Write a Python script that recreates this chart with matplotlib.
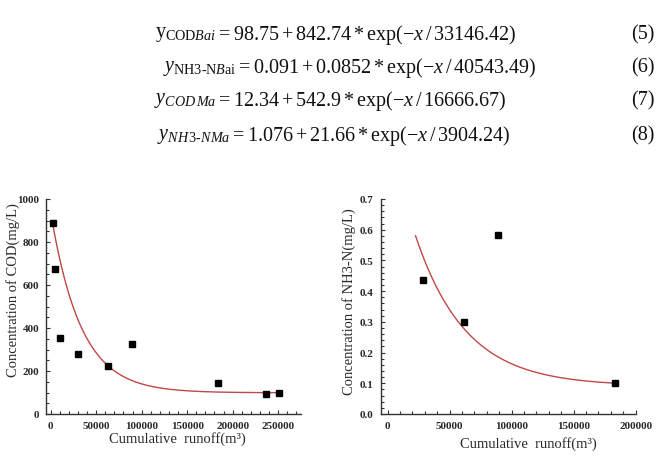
import numpy as np
import matplotlib
matplotlib.use('Agg')
import matplotlib.pyplot as plt

plt.rcParams['font.family'] = 'Liberation Serif'
plt.rcParams['mathtext.fontset'] = 'custom'
plt.rcParams['mathtext.rm'] = 'Liberation Serif'
plt.rcParams['mathtext.it'] = 'Liberation Serif:italic'
plt.rcParams['mathtext.bf'] = 'Liberation Serif:bold'

# COD data (Bai)
cod_runoff = [2900, 4700, 9900, 30000, 63000, 89500, 184000, 237000, 250500]
cod_conc = [888, 676, 353, 277, 224, 325, 146, 94, 98]
# fitted curve: y = y0 + A*exp(-x/t)
cod_y0, cod_a, cod_t = 98.75, 842.74, 33146.42
cod_fit_range = (2000, 250500)

# NH3-N data (Bai)
nh3_runoff = [28300, 61800, 88600, 183300]
nh3_conc = [0.437, 0.300, 0.583, 0.100]
nh3_y0, nh3_a, nh3_t = 0.091, 0.852, 40543.49
nh3_fit_range = (22500, 183300)

# equations: left side (before "=") and right side
eq_lhs = [
    r'$\mathrm{y}_{\mathrm{COD}\mathit{Bai}}$',
    r'$\mathit{y}_{\mathrm{NH3\text{-}N}\mathit{B}\mathrm{ai}}$',
    r'$\mathit{y}_{\mathit{COD\,Ma}}$',
    r'$\mathit{y}_{\mathit{NH\,3\text{-}NMa}}$',
]
eq_rhs = [
    r'$=98.75+842.74*\mathrm{exp}(-\mathit{x}\,/\,33146.42)$',
    r'$=0.091+0.0852*\mathrm{exp}(-\mathit{x}\,/\,40543.49)$',
    r'$=12.34+542.9*\mathrm{exp}(-\mathit{x}\,/\,16666.67)$',
    r'$=1.076+21.66*\mathrm{exp}(-\mathit{x}\,/\,3904.24)$',
]
eq_numbers = ['(5)', '(6)', '(7)', '(8)']

W, H = 657, 464
fig = plt.figure(figsize=(W / 100, H / 100), dpi=100)

eq_x = [216, 236, 216, 230]
eq_y = [35, 68, 101, 136]
for lhs, rhs, num, x, y in zip(eq_lhs, eq_rhs, eq_numbers, eq_x, eq_y):
    fig.text(x / W, 1 - y / H, lhs, fontsize=14.5, va='center', ha='right', color='#111111')
    fig.text(x / W, 1 - y / H, rhs, fontsize=14.5, va='center', ha='left', color='#111111')
    fig.text(655 / W, 1 - y / H, num, fontsize=14.5, va='center', ha='right', color='#111111')

line_color = '#c04848'
txt_color = '#2a2a2a'


def style_axes(ax):
    for s in ['top', 'right']:
        ax.spines[s].set_visible(False)
    for s in ['left', 'bottom']:
        ax.spines[s].set_linewidth(1.0)
        ax.spines[s].set_color('#333333')
    ax.minorticks_on()
    ax.tick_params(which='both', direction='in', color='#333333', width=0.8)
    ax.tick_params(which='major', length=3, labelsize=8, labelcolor=txt_color, pad=5)
    ax.tick_params(which='minor', length=2)
    for lab in ax.get_xticklabels() + ax.get_yticklabels():
        lab.set_fontweight('bold')


# left panel: COD
ax1 = fig.add_axes([46 / W, 1 - 415 / H, 255 / W, 215 / H])
xf = np.linspace(*cod_fit_range, 300)
ax1.plot(xf, cod_y0 + cod_a * np.exp(-xf / cod_t), color=line_color, lw=1.0)
ax1.plot(cod_runoff, cod_conc, 's', color='black', ms=4)
ax1.set_xlim(-5000, 275000)
ax1.set_ylim(0, 1000)
ax1.set_xticks([0, 50000, 100000, 150000, 200000, 250000])
ax1.set_yticks([0, 200, 400, 600, 800, 1000])
style_axes(ax1)
ax1.set_xlabel('Cumulative  runoff(m³)', fontsize=10.5, color=txt_color)
ax1.set_ylabel('Concentration of COD(mg/L)', fontsize=10.5, color=txt_color)
ax1.xaxis.set_label_coords(0.514, -0.079)
ax1.yaxis.set_label_coords(-0.10, 0.58)

# right panel: NH3-N
ax2 = fig.add_axes([380.7 / W, 1 - 415 / H, 255 / W, 215 / H])
xf = np.linspace(*nh3_fit_range, 300)
ax2.plot(xf, nh3_y0 + nh3_a * np.exp(-xf / nh3_t), color=line_color, lw=1.0)
ax2.plot(nh3_runoff, nh3_conc, 's', color='black', ms=4)
ax2.set_xlim(-5600, 200000)
ax2.set_ylim(0, 0.7)
ax2.set_xticks([0, 50000, 100000, 150000, 200000])
ax2.set_yticks([0.0, 0.1, 0.2, 0.3, 0.4, 0.5, 0.6, 0.7])
ax2.yaxis.set_major_formatter(matplotlib.ticker.FormatStrFormatter('%.1f'))
style_axes(ax2)
ax2.set_xlabel('Cumulative  runoff(m³)', fontsize=10.5, color=txt_color)
ax2.set_ylabel('Concentration of NH3-N(mg/L)', fontsize=10.5, color=txt_color)
ax2.xaxis.set_label_coords(0.578, -0.102)
ax2.yaxis.set_label_coords(-0.097, 0.525)

fig.savefig('out.png', dpi=100)
